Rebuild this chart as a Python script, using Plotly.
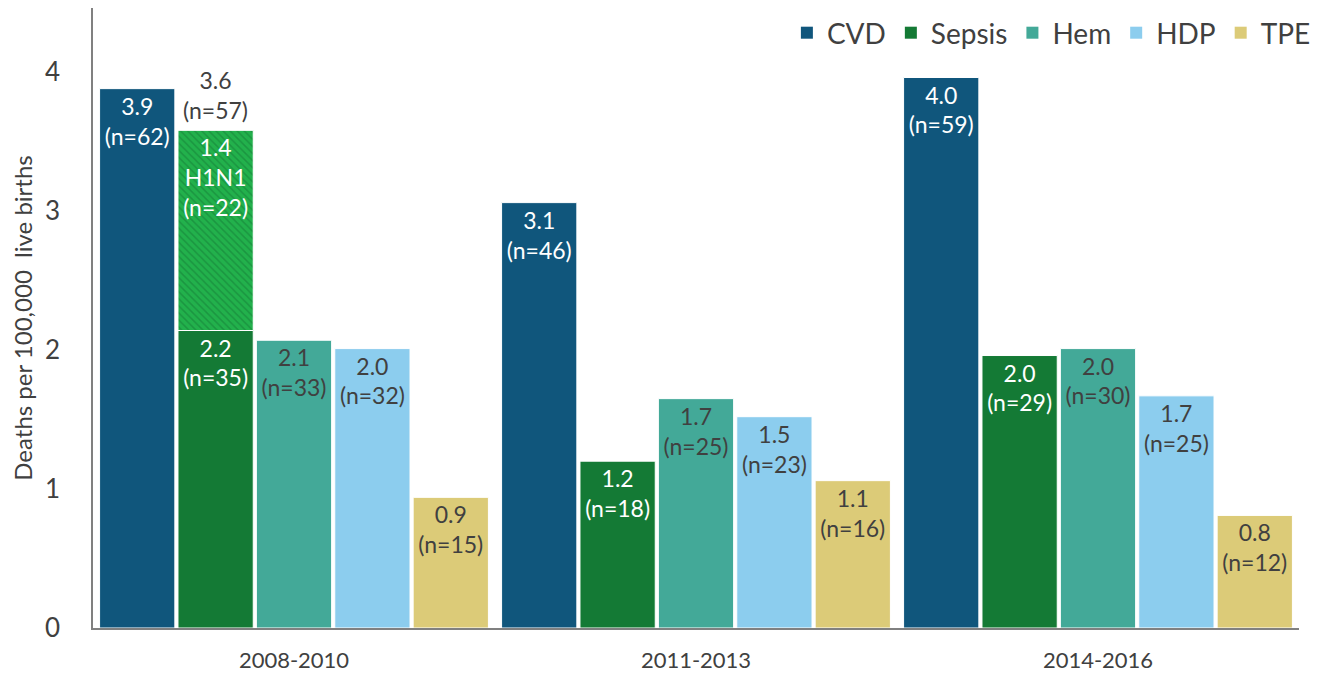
import plotly.graph_objects as go

categories = ["2008-2010", "2011-2013", "2014-2016"]
series = ["CVD", "Sepsis", "Hem", "HDP", "TPE"]
colors = {"CVD": "#10567c", "Sepsis": "#147a35", "Hem": "#43a998", "HDP": "#8ccdee", "TPE": "#dccb78"}
text_colors = {"CVD": "white", "Sepsis": "white", "Hem": "#404040", "HDP": "#404040", "TPE": "#404040"}

values = {
    "CVD":    [3.88, 3.06, 3.96],
    "Sepsis": [2.14, 1.20, 1.96],
    "Hem":    [2.07, 1.65, 2.01],
    "HDP":    [2.01, 1.52, 1.67],
    "TPE":    [0.94, 1.06, 0.81],
}
labels = {
    "CVD":    ["3.9<br>(n=62)", "3.1<br>(n=46)", "4.0<br>(n=59)"],
    "Sepsis": ["2.2<br>(n=35)", "1.2<br>(n=18)", "2.0<br>(n=29)"],
    "Hem":    ["2.1<br>(n=33)", "1.7<br>(n=25)", "2.0<br>(n=30)"],
    "HDP":    ["2.0<br>(n=32)", "1.5<br>(n=23)", "1.7<br>(n=25)"],
    "TPE":    ["0.9<br>(n=15)", "1.1<br>(n=16)", "0.8<br>(n=12)"],
}
h1n1_value = [1.44]
h1n1_label = ["1.4<br>H1N1<br>(n=22)"]
sepsis_total_label = "3.6<br>(n=57)"

FONT = "Lato"
LABEL_SIZE = 23
bargap = 0.025

fig = go.Figure()
for s in series:
    fig.add_trace(go.Bar(
        x=categories, y=values[s], name=s, offsetgroup=s, showlegend=False,
        marker=dict(color=colors[s], line=dict(color="white", width=1)),
        text=labels[s], textposition="inside", insidetextanchor="end",
        textangle=0, constraintext="none",
        textfont=dict(family=FONT, size=LABEL_SIZE, color=text_colors[s]),
        hoverinfo="skip",
    ))

fig.add_trace(go.Bar(
    x=categories[:1], y=h1n1_value, base=values["Sepsis"][:1], name="H1N1",
    offsetgroup="Sepsis", showlegend=False,
    marker=dict(color="#22b14c", line=dict(color="white", width=1),
                pattern=dict(shape="\\", fgcolor="#147a35", bgcolor="#22b14c", size=5, solidity=0.3)),
    text=h1n1_label, textposition="inside", insidetextanchor="end",
    textangle=0, constraintext="none",
    textfont=dict(family=FONT, size=LABEL_SIZE, color="white"),
    hoverinfo="skip",
))

# legend entries with square swatches
for s in series:
    fig.add_trace(go.Scatter(
        x=[None], y=[None], mode="markers", name=s,
        marker=dict(symbol="square", size=19, color=colors[s]),
        showlegend=True, hoverinfo="skip",
    ))

slot = (1 - bargap) / len(series)
sepsis_x = 0 + (series.index("Sepsis") - (len(series) - 1) / 2) * slot
fig.add_annotation(
    x=sepsis_x, y=values["Sepsis"][0] + h1n1_value[0], xref="x", yref="y",
    text=sepsis_total_label, showarrow=False, yanchor="bottom", yshift=4,
    font=dict(family=FONT, size=LABEL_SIZE, color="#404040"),
)

# page body has an 8px margin, so the figure is sized/offset to compensate
fig.update_layout(
    barmode="group", bargap=bargap, bargroupgap=0.04,
    width=1317, height=669,
    margin=dict(l=85, r=26, t=0, b=49, autoexpand=False),
    plot_bgcolor="white", paper_bgcolor="white",
    font=dict(family=FONT, color="#404040"),
    legend=dict(orientation="h", x=1.014, xanchor="right", y=1.0, yanchor="top",
                font=dict(family=FONT, size=28, color="#404040"),
                itemsizing="constant", traceorder="normal", bgcolor="rgba(0,0,0,0)",
                itemwidth=30),
    xaxis=dict(showline=True, linecolor="#808080", linewidth=1.5, ticks="",
               tickfont=dict(family=FONT, size=22, color="#404040"), showgrid=False,
               automargin=False, range=[-0.5, 2.5], ticklabelstandoff=12),
    yaxis=dict(range=[0, 4.46], showline=True, linecolor="#808080", linewidth=1.5,
               tickvals=[0, 1, 2, 3, 4], ticks="", showgrid=False, zeroline=False,
               automargin=False, ticklabelstandoff=26,
               tickfont=dict(family=FONT, size=26, color="#404040"),
               title=dict(text="Deaths per 100,000  live births", standoff=12,
                          font=dict(family=FONT, size=24, color="#404040"))),
)

fig.write_html("out.html")
